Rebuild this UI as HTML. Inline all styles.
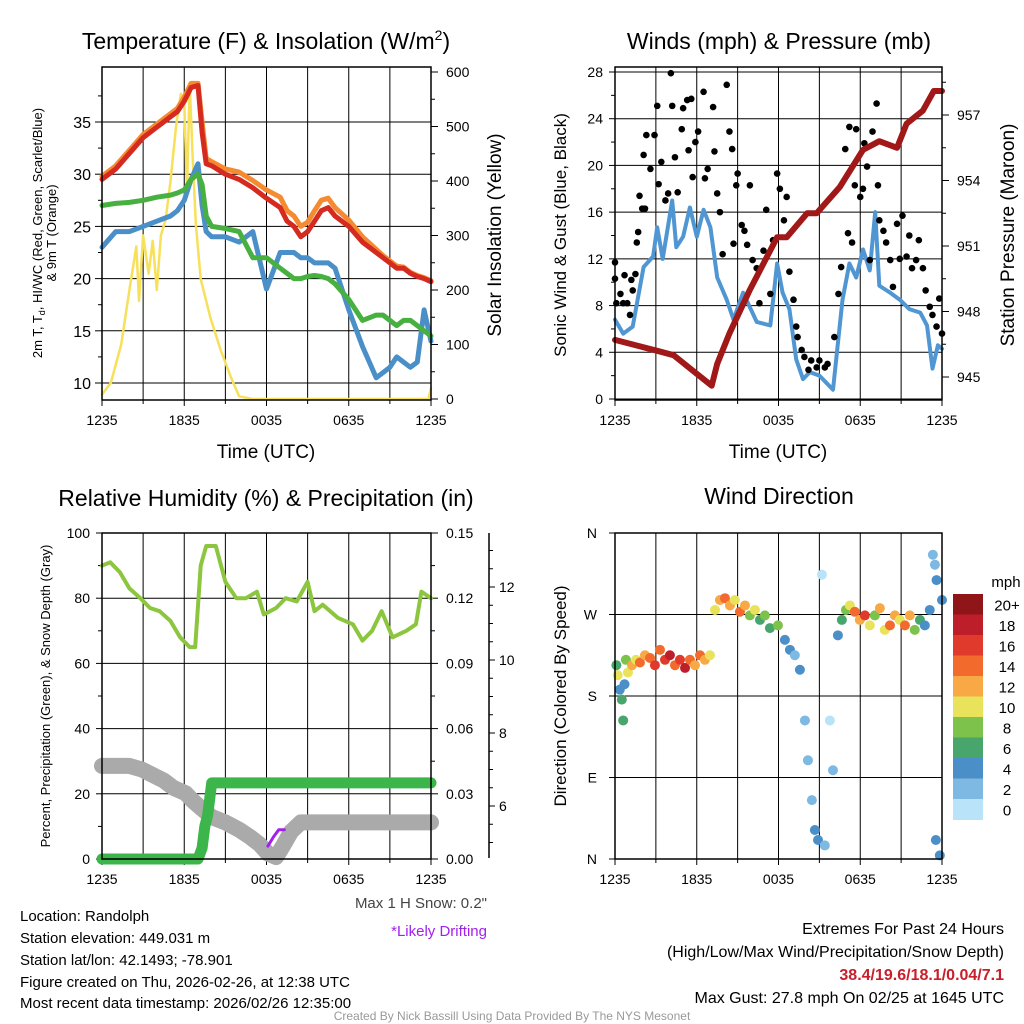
<!DOCTYPE html>
<html><head><meta charset="utf-8">
<style>
html,body{margin:0;padding:0;background:#fff;}
svg{display:block;font-family:"Liberation Sans",Arial,sans-serif;}
</style></head>
<body>
<svg id="chart" xmlns="http://www.w3.org/2000/svg" width="1024" height="1024" viewBox="0 0 1024 1024">
<rect x="0" y="0" width="1024" height="1024" fill="#fff"/>
<g id="layer"></g>
<text x="266" y="49" font-size="23" text-anchor="middle">Temperature (F) &amp; Insolation (W/m<tspan dy="-9" font-size="14">2</tspan><tspan dy="9">)</tspan></text>
<text x="779" y="49" font-size="23" text-anchor="middle">Winds (mph) &amp; Pressure (mb)</text>
<text x="266" y="506" font-size="23" text-anchor="middle">Relative Humidity (%) &amp; Precipitation (in)</text>
<text x="779" y="504" font-size="23" text-anchor="middle">Wind Direction</text>

<text x="266" y="458" font-size="19" text-anchor="middle">Time (UTC)</text>
<text x="778" y="458" font-size="19" text-anchor="middle">Time (UTC)</text>
<text transform="translate(42,233) rotate(-90)" font-size="13" text-anchor="middle">2m T, T<tspan dy="3" font-size="9">d</tspan><tspan dy="-3">, HI/WC (Red, Green, Scarlet/Blue)</tspan></text>
<text transform="translate(56,233) rotate(-90)" font-size="13" text-anchor="middle">&amp; 9m T (Orange)</text>
<text transform="translate(501,235) rotate(-90)" font-size="19" text-anchor="middle">Solar Insolation (Yellow)</text>
<text transform="translate(566,235) rotate(-90)" font-size="17" text-anchor="middle">Sonic Wind &amp; Gust (Blue, Black)</text>
<text transform="translate(1014,235) rotate(-90)" font-size="19" text-anchor="middle">Station Pressure (Maroon)</text>
<text transform="translate(50,696) rotate(-90)" font-size="13" text-anchor="middle">Percent, Precipitation (Green), &amp; Snow Depth (Gray)</text>
<text transform="translate(566,696) rotate(-90)" font-size="17" text-anchor="middle">Direction (Colored By Speed)</text>

<text x="487" y="908" font-size="15" fill="#444" text-anchor="end">Max 1 H Snow: 0.2"</text>
<text x="487" y="936" font-size="15" fill="#a020f0" text-anchor="end">*Likely Drifting</text>
<g font-size="15">
<text x="20" y="921">Location: Randolph</text>
<text x="20" y="943">Station elevation: 449.031 m</text>
<text x="20" y="965">Station lat/lon: 42.1493; -78.901</text>
<text x="20" y="987">Figure created on Thu, 2026-02-26, at 12:38 UTC</text>
<text x="20" y="1008">Most recent data timestamp: 2026/02/26 12:35:00</text>
</g>
<g font-size="16" text-anchor="end">
<text x="1004" y="934">Extremes For Past 24 Hours</text>
<text x="1004" y="957">(High/Low/Max Wind/Precipitation/Snow Depth)</text>
<text x="1004" y="980" fill="#c8202a" font-weight="bold">38.4/19.6/18.1/0.04/7.1</text>
<text x="1004" y="1003">Max Gust: 27.8 mph On 02/25 at 1645 UTC</text>
</g>
<text x="512" y="1020" font-size="12" fill="#999" text-anchor="middle">Created By Nick Bassill Using Data Provided By The NYS Mesonet</text>
</svg>
<script>
// ---------- DATA ----------
const xTickLabels = ["1235","1835","0035","0635","1235"];
const tempTimes = [0,1,2,3,4,5,5.5,6,6.5,7,7.3,7.6,8,9,10,11,12,13,13.5,14,14.5,15,15.5,16,16.5,17,18,19,20,20.5,21,21.5,22,22.5,23,23.5,24];
const temp2m = [29.5,30.5,32,33.5,34.5,35.5,36,37,38.3,38.5,34,31,30.8,30,29.5,28.7,27.7,26.8,25.5,25,24,24.5,25.5,26.5,26.8,26,25,23.5,22.5,22,21.5,21,21,20.5,20.2,20,19.7];
const temp9m = [29.8,30.8,32.3,33.8,34.8,35.8,36.3,37.4,38.7,38.7,35,31.5,31.2,30.5,30.2,29.4,28.5,27.8,26.5,26,25,25.4,26.5,27.5,27.7,26.8,25.6,24,22.8,22.2,21.7,21.2,21.1,20.6,20.3,20.1,19.8];
const dewpoint = [27,27.2,27.3,27.5,27.8,28,28.2,28.5,29.5,30,29,26,25,24.8,24.5,22,22,21,20.5,20,20,20.2,20.3,20.2,20,19.5,18,16,16.5,16.5,16,15.5,16,16,15.5,15,14.5];
const windChill = [23,24.5,24.5,25,25.5,26,26.5,27.5,29.5,31,27,24.5,24,24,23.5,24.5,19,22.5,22.5,22.5,22,22,21.5,21.5,21.5,21,17,13.5,10.5,11,11.5,12.5,12,11.5,12,17,14];
const solTimes = [0,0.65,1.4,2,2.5,2.7,3,3.4,3.7,4,4.3,4.65,5,5.4,5.75,6,6.2,6.4,6.6,6.85,7.2,7.9,8.65,9.4,10,11,23.8,24];
const solar = [8,30,100,200,280,180,300,230,290,200,300,330,400,500,560,540,380,580,450,320,220,150,90,40,5,0,0,20];
const tempTicks = [10,15,20,25,30,35];
const solarTicks = [0,100,200,300,400,500,600];

const windTimes = [0,0.6,1.3,2.1,2.8,3.1,3.5,4.2,4.5,5,5.5,6,6.5,7,7.5,8.2,8.7,9.4,10.4,11.4,11.9,12.3,12.8,13.3,13.8,14.3,15,16,16.7,17.2,17.7,18.2,18.7,19.1,19.4,20.2,20.9,21.6,22.4,22.9,23.3,23.7,24];
const windSpeed = [6.8,5.6,6.2,11.3,12.2,14.7,12,17,13,13.9,16.4,13.9,16.2,14.7,10.4,8.5,6.8,9.1,6.6,6.3,11.6,9.1,7.7,3.4,1.7,2.3,2,0.8,8.5,11.6,10.4,12.8,11,16,9.7,9.1,8.5,7.7,7.4,6.3,2.6,4.6,4.3];
const gustTimes = [0,0,0.1,0.4,0.6,0.7,0.9,1.1,1.2,1.3,1.5,1.6,1.7,1.8,2,2.1,2.2,2.3,2.6,2.9,3.1,3.2,3.4,3.7,3.9,4.1,4.2,4.4,4.6,4.9,5,5.3,5.4,5.6,5.7,5.9,6.1,6.5,6.6,6.8,7.2,7.3,7.5,7.7,7.9,8.2,8.4,8.6,8.7,8.9,9,9.3,9.5,9.7,9.9,10.1,10.4,10.6,10.9,11.1,11.4,11.6,11.9,12.1,12.4,12.6,12.8,13.1,13.3,13.4,13.7,13.9,14.2,14.4,14.8,15,15.4,15.6,16.1,16.4,16.6,16.9,17.1,17.2,17.4,17.6,17.7,18,18.2,18.3,18.5,18.7,18.9,19.2,19.3,19.4,19.7,19.9,20.2,20.4,20.7,20.9,21.1,21.4,21.6,21.8,22.1,22.3,22.6,22.8,23.1,23.3,23.6,23.8,24];
const gusts = [10.3,11.7,8.2,9,8.2,10.6,8.2,7.2,10.2,9.3,10.7,13.4,14.3,17.4,16.3,20.9,16.3,22.6,19.7,22.6,25.1,18.4,20.3,17,17.6,27.9,25.1,20.7,17.7,23.1,24.9,25.6,21.3,25.7,19,22,22.9,26.3,18.9,19.7,25,21.2,17.6,16,12.4,26.9,22.9,21.4,13.3,18.3,19.3,14.9,14.4,13.2,18.3,11.9,11.2,8.2,12.7,16.2,9,13.6,19.3,18,15.3,17.3,10.9,8.5,6.2,5.3,4.2,3.6,2.5,3.3,2.7,3.3,2.7,3,5.3,9,11.3,21.4,14.2,23.3,13.4,18.3,23.1,17.3,18,21.9,19.9,11.9,22.9,25.3,18.3,15.3,14.4,13.4,11.9,9.6,15,12,15.7,12.2,14,11.2,11.9,13.6,11.2,9.3,7.9,7.2,6.2,8.6,5.6];
const presTimes = [0,3.1,4.3,5.5,7.1,7.5,8.4,9.9,11.9,12.6,14.1,14.8,16.5,18.2,19.4,20.7,21.4,22.6,23.4,24];
const pressure = [946.7,946.2,946.0,945.4,944.6,945.6,947.0,949.0,951.4,951.4,952.5,952.5,953.7,955.4,955.8,955.5,956.6,957.2,958.1,958.1];
const windTicks = [0,4,8,12,16,20,24,28];
const presTicks = [945,948,951,954,957];

const rhTimes = [0,0.6,1.3,2,2.8,3.5,4.2,5,5.7,6.4,6.8,7.2,7.6,8.3,9,9.8,10.5,11.3,11.8,12.7,13.4,14.2,15,15.5,16.1,17.2,18.3,19,19.7,20.4,21.2,22.2,22.9,23.3,24];
const rh = [90,91,88,83,80,77,76,73,68,65,65,90,96,96,85,80,80,82,75,77,80,79,85,76,78,74,72,67,70,76,68,70,72,82,80];
const precipTimes = [0,1,2,3,4,5,6,7,7.3,7.5,7.7,8,10,12,14,16,18,20,22,24];
const precip = [0,0,0,0,0,0,0,0,0.005,0.015,0.02,0.035,0.035,0.035,0.035,0.035,0.035,0.035,0.035,0.035];
const snowTimes = [0,1,2,2.9,3.7,4.5,5.2,6.1,6.6,7.2,8,9,10,10.8,11.5,12.1,12.7,13.2,13.8,14.5,15.5,17,18,20,22,24];
const snowDepth = [7.1,7.1,7.1,7.0,6.85,6.7,6.5,6.35,6.15,5.95,5.7,5.55,5.35,5.15,4.95,4.7,4.6,4.9,5.3,5.55,5.55,5.55,5.55,5.55,5.55,5.55];
const driftTimes = [12.1,12.5,12.9,13.3];
const driftDepth = [4.9,5.15,5.35,5.35];
const rhTicks = [0,20,40,60,80,100];
const precipTicks = [0,0.03,0.06,0.09,0.12,0.15];
const snowTicks = [6,8,10,12];

const dirTimes = [0.1,0.2,0.35,0.5,0.6,0.7,0.8,0.95,1.25,1.55,1.83,2.2,2.57,2.93,3.3,3.67,4.03,4.4,4.77,5.14,5.5,5.87,6.24,6.6,6.97,7.34,7.7,8.07,8.44,8.8,9.17,9.54,9.9,10.27,10.64,11.0,11.37,11.96,12.47,12.84,13.2,13.57,13.94,14.16,14.45,14.67,14.9,15.19,15.4,15.77,16.0,16.36,16.65,16.95,17.24,17.6,17.97,18.34,18.7,19.07,19.44,19.8,20.18,20.54,20.9,21.28,21.64,22.0,22.38,22.74,23.1,23.33,23.48,23.6,23.55,23.84,24];
const dirDeg = [214,203,187,176,153,193,220,206,214,220,217,225,222,214,231,220,225,214,220,211,220,214,225,220,225,275,286,288,280,286,273,280,269,275,264,269,255,258,242,231,225,209,153,109,65,32,21,314,15,153,98,247,264,275,280,273,264,269,258,269,277,253,258,269,264,258,269,253,264,258,275,336,325,308,21,4,286];
const dirSpeed = [6,10,4,6,6,4,8,10,12,10,14,12,14,16,14,16,18,14,16,18,14,12,14,12,10,10,12,14,12,10,14,12,8,10,6,8,6,8,4,3,2,3,1,1,2,3,3,0,2,0,1,4,6,8,10,14,12,16,10,8,12,10,14,12,10,14,12,8,6,4,4,2,2,4,4,4,4];
const dirTickLabels = ["N","E","S","W","N"];
const speedBins = ["0","2","4","6","8","10","12","14","16","18","20+"];
const binColors = ["#b8e3f8","#7db9e3","#4a8fc7","#48a56b","#7dc24b","#e8e35a","#f8a946","#f26a2c","#e03a2c","#be1e2a","#8f1518"];

// ---------- RENDER ----------
const NS = "http://www.w3.org/2000/svg";
const layer = document.getElementById('layer');
function mk(tag, attrs, parent){ const e=document.createElementNS(NS,tag); for(const k in attrs) e.setAttribute(k,attrs[k]); (parent||layer).appendChild(e); return e; }
function linear(d0,d1,r0,r1){ return v => r0 + (v-d0)/(d1-d0)*(r1-r0); }

function frame(x0,x1,y0,y1,name){
  const g = mk('g',{});
  
  
  return g;
}
function vgrid(g,x0,x1,y0,y1){
  const xs = linear(0,24,x0,x1);
  for(let h=3; h<24; h+=3) mk('line',{x1:xs(h),x2:xs(h),y1:y0,y2:y1,stroke:'#000','stroke-width':1},g);
  for(let i=0;i<xTickLabels.length;i++){
    const h=i*6;
    mk('line',{x1:xs(h),x2:xs(h),y1:y1,y2:y1+6,stroke:'#000','stroke-width':1},g);
    const t=mk('text',{x:xs(h),y:y1+25,'font-size':14,'text-anchor':'middle'},g); t.textContent=xTickLabels[i];
  }
  for(let h=3;h<24;h+=6) mk('line',{x1:xs(h),x2:xs(h),y1:y1,y2:y1+4,stroke:'#000'},g);
}
function border(g,x0,x1,y0,y1){
  mk('rect',{x:x0,y:y0,width:x1-x0,height:y1-y0,fill:'none',stroke:'#000','stroke-width':1.5},g);
}
function path(g,times,vals,xs,ys,color,w,name){
  let d=''; for(let i=0;i<times.length;i++) d+=(i?'L':'M')+xs(times[i]).toFixed(1)+','+ys(vals[i]).toFixed(1);
  const p=mk('path',{d:d,fill:'none',stroke:color,'stroke-width':w,'stroke-linejoin':'round','stroke-linecap':'round'},g);
  
  
  return p;
}

// Panel 1
(function(){
  const X0=102,X1=431,Y0=67,Y1=400;
  const g=frame(X0,X1,Y0,Y1,'temperature-panel');
  const xs=linear(0,24,X0,X1), yT=linear(10,35,383,122), yS=linear(0,600,399,72);
  tempTicks.forEach(v=>{ mk('line',{x1:X0,x2:X1,y1:yT(v),y2:yT(v),stroke:'#000'},g);
    mk('line',{x1:X0-7,x2:X0,y1:yT(v),y2:yT(v),stroke:'#000'},g);
    mk('line',{x1:X0-4,x2:X0,y1:yT(v+2.5),y2:yT(v+2.5),stroke:'#000'},g);
    const t=mk('text',{x:X0-11,y:yT(v)+6,'font-size':16,'text-anchor':'end'},g); t.textContent=v; });
  solarTicks.forEach(v=>{ mk('line',{x1:X1,x2:X1+7,y1:yS(v),y2:yS(v),stroke:'#000'},g);
    if(v<600) mk('line',{x1:X1,x2:X1+4,y1:yS(v+50),y2:yS(v+50),stroke:'#000'},g);
    const t=mk('text',{x:X1+15,y:yS(v)+5,'font-size':14},g); t.textContent=v; });
  vgrid(g,X0,X1,Y0,Y1);
  path(g,solTimes,solar,xs,yS,'#f7e05a',2.5,'solar-insolation-line');
  path(g,tempTimes,windChill,xs,yT,'#4a8fc7',5,'wind-chill-line');
  path(g,tempTimes,dewpoint,xs,yT,'#48b040',5,'dewpoint-line');
  path(g,tempTimes,temp9m,xs,yT,'#f58a30',5,'temp-9m-line');
  path(g,tempTimes,temp2m,xs,yT,'#d42a20',5,'temp-2m-line');
  border(g,X0,X1,Y0,Y1);
})();

// Panel 2
(function(){
  const X0=615,X1=942,Y0=67,Y1=400;
  const g=frame(X0,X1,Y0,Y1,'winds-panel');
  const xs=linear(0,24,X0,X1), yW=linear(0,28,399,72), yP=linear(945,957,377,115);
  windTicks.forEach(v=>{ mk('line',{x1:X0,x2:X1,y1:yW(v),y2:yW(v),stroke:'#000'},g);
    mk('line',{x1:X0-6,x2:X0,y1:yW(v),y2:yW(v),stroke:'#000'},g);
    if(v<28) mk('line',{x1:X0-4,x2:X0,y1:yW(v+2),y2:yW(v+2),stroke:'#000'},g);
    const t=mk('text',{x:X0-12,y:yW(v)+5,'font-size':14,'text-anchor':'end'},g); t.textContent=v; });
  presTicks.forEach(v=>{ mk('line',{x1:X1,x2:X1+7,y1:yP(v),y2:yP(v),stroke:'#000'},g);
    mk('line',{x1:X1,x2:X1+4,y1:yP(v+1.5),y2:yP(v+1.5),stroke:'#000'},g);
    const t=mk('text',{x:X1+15,y:yP(v)+5,'font-size':14},g); t.textContent=v; });
  vgrid(g,X0,X1,Y0,Y1);
  path(g,windTimes,windSpeed,xs,yW,'#4f96d3',4,'sonic-wind-line');
  for(let i=0;i<gusts.length;i++){
    const c=mk('circle',{cx:xs(gustTimes[i]),cy:yW(gusts[i]),r:3.3,fill:'#000'},g);
    
    
  }
  path(g,presTimes,pressure,xs,yP,'#a01818',6,'pressure-line');
  border(g,X0,X1,Y0,Y1);
})();

// Panel 3
(function(){
  const X0=102,X1=431,Y0=533,Y1=859;
  const g=frame(X0,X1,Y0,Y1,'humidity-panel');
  const xs=linear(0,24,X0,X1), yR=linear(0,100,859,533), yPr=linear(0,0.15,859,533), ySn=linear(6,8,806,733);
  rhTicks.forEach(v=>{ if(v>0&&v<100) mk('line',{x1:X0,x2:X1,y1:yR(v),y2:yR(v),stroke:'#000'},g);
    mk('line',{x1:X0-6,x2:X0,y1:yR(v),y2:yR(v),stroke:'#000'},g);
    if(v<100) mk('line',{x1:X0-4,x2:X0,y1:yR(v+10),y2:yR(v+10),stroke:'#000'},g);
    const t=mk('text',{x:X0-12,y:yR(v)+5,'font-size':14,'text-anchor':'end'},g); t.textContent=v; });
  precipTicks.forEach(v=>{ mk('line',{x1:X1,x2:X1+7,y1:yPr(v),y2:yPr(v),stroke:'#000'},g);
    if(v<0.15) mk('line',{x1:X1,x2:X1+4,y1:yPr(v+0.015),y2:yPr(v+0.015),stroke:'#000'},g);
    const t=mk('text',{x:X1+15,y:yPr(v)+5,'font-size':14},g); t.textContent=v.toFixed(2); });
  mk('line',{x1:489,x2:489,y1:533,y2:858,stroke:'#000','stroke-width':1.5},g);
  snowTicks.forEach(v=>{ mk('line',{x1:489,x2:495,y1:ySn(v),y2:ySn(v),stroke:'#000'},g);
    const t=mk('text',{x:499,y:ySn(v)+5,'font-size':14},g); t.textContent=v; });
  for(let v=5;v<=13;v+=0.5){ if(v%2) mk('line',{x1:489,x2:493,y1:ySn(v),y2:ySn(v),stroke:'#000'},g); }
  vgrid(g,X0,X1,Y0,Y1);
  path(g,rhTimes,rh,xs,yR,'#8cc63f',4,'relative-humidity-line');
  path(g,snowTimes,snowDepth,xs,ySn,'#aaaaaa',16,'snow-depth-line');
  path(g,driftTimes,driftDepth,xs,ySn,'#a020f0',3,'drifting-snow-line');
  path(g,precipTimes,precip,xs,yPr,'#3cb54a',11,'precipitation-line');
  border(g,X0,X1,Y0,Y1);
})();

// Panel 4
(function(){
  const X0=615,X1=942,Y0=533,Y1=859;
  const g=frame(X0,X1,Y0,Y1,'wind-direction-panel');
  const xs=linear(0,24,X0,X1), yD=linear(0,360,859,533);
  dirTickLabels.forEach((l,i)=>{ const v=i*90;
    if(i>0&&i<4) mk('line',{x1:X0,x2:X1,y1:yD(v),y2:yD(v),stroke:'#000'},g);
    mk('line',{x1:X0-6,x2:X0,y1:yD(v),y2:yD(v),stroke:'#000'},g);
    const t=mk('text',{x:X0-18,y:yD(v)+5,'font-size':14,'text-anchor':'end'},g); t.textContent=l; });
  vgrid(g,X0,X1,Y0,Y1);
  for(let i=0;i<dirDeg.length;i++){
    const bi=Math.min(10,Math.round(dirSpeed[i]/2));
    const c=mk('circle',{cx:xs(dirTimes[i]),cy:yD(dirDeg[i]),r:5,fill:binColors[bi]},g);
    
    
  }
  border(g,X0,X1,Y0,Y1);
  const lg=mk('g',{});
  
  
  const t0=mk('text',{x:1006,y:587,'font-size':15,'text-anchor':'middle'},lg); t0.textContent='mph';
  const bh=20.5;
  for(let i=0;i<speedBins.length;i++){
    const idx=10-i, y=594+i*bh;
    mk('rect',{x:953,y:y,width:30,height:bh+0.5,fill:binColors[idx]},lg);
    const t=mk('text',{x:1007,y:y+bh/2+6,'font-size':15,'text-anchor':'middle'},lg); t.textContent=speedBins[idx];
  }
})();
</script>
</body></html>
